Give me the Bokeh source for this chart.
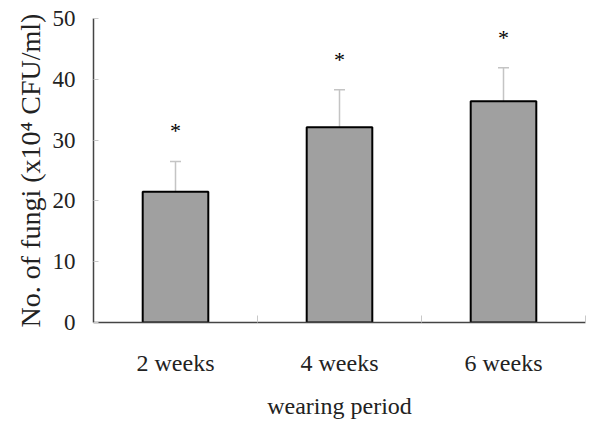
from bokeh.plotting import figure
from bokeh.models import FixedTicker, Whisker, TeeHead, ColumnDataSource, Range1d
from bokeh.core.properties import value
from bokeh.embed import file_html
from bokeh.resources import INLINE

categories = ["2 weeks", "4 weeks", "6 weeks"]
means = [21.5, 32.1, 36.4]
sds = [5.0, 6.2, 5.5]
y_ticks = [0, 10, 20, 30, 40, 50]
x_title = "wearing period"
y_title = "No. of fungi (x10\u2074 CFU/ml)"
star_offset = 5.0

FONT = "Liberation Serif"

xs = [i + 0.5 for i in range(len(categories))]
src = ColumnDataSource(dict(
    x=xs, top=means,
    upper=[m + s for m, s in zip(means, sds)],
    star=[m + s + star_offset for m, s in zip(means, sds)],
    label=["*"] * len(categories),
))

p = figure(width=590, height=421, output_backend="svg", toolbar_location=None,
           x_range=Range1d(0, len(categories)), y_range=Range1d(0, 50))
p.min_border_left = 93
p.min_border_right = 5
p.min_border_top = 18
p.min_border_bottom = 99
p.outline_line_color = None
p.xgrid.grid_line_color = None
p.ygrid.grid_line_color = None
p.background_fill_color = "white"
p.border_fill_color = "white"

p.vbar(x="x", top="top", width=0.4, bottom=0, source=src,
       fill_color="#a0a0a0", line_color="black", line_width=2)

w = Whisker(base="x", upper="upper", lower="top", source=src,
            line_color="#c4c4c4", line_width=1.5,
            upper_head=TeeHead(size=11, line_color="#c4c4c4", line_width=1.5),
            lower_head=None)
p.add_layout(w)

p.text(x="x", y="star", text="label", source=src, text_align="center",
       text_baseline="middle", text_font=value(FONT), text_font_size="22px",
       text_color="black")

# x axis
p.xaxis.ticker = FixedTicker(ticks=xs, minor_ticks=list(range(len(categories) + 1)))
p.xaxis.major_label_overrides = {x: c for x, c in zip(xs, categories)}
p.xaxis.major_tick_line_color = None
p.xaxis.minor_tick_line_color = "#c8c8c8"
p.xaxis.minor_tick_in = 7
p.xaxis.minor_tick_out = 0
p.xaxis.axis_line_color = "#444444"
p.xaxis.axis_line_width = 1.5
p.xaxis.major_label_text_font = FONT
p.xaxis.major_label_text_font_size = "24px"
p.xaxis.major_label_text_color = "#222222"
p.xaxis.major_label_standoff = 21
p.xaxis.axis_label = x_title
p.xaxis.axis_label_text_font = FONT
p.xaxis.axis_label_text_font_size = "24px"
p.xaxis.axis_label_text_font_style = "normal"
p.xaxis.axis_label_text_color = "#222222"
p.xaxis.axis_label_standoff = 14

# y axis
p.yaxis.ticker = FixedTicker(ticks=y_ticks)
p.yaxis.minor_tick_line_color = None
p.yaxis.major_tick_line_color = "#c8c8c8"
p.yaxis.major_tick_in = 5
p.yaxis.major_tick_out = 0
p.yaxis.axis_line_color = "#444444"
p.yaxis.axis_line_width = 1.5
p.yaxis.major_label_text_font = FONT
p.yaxis.major_label_text_font_size = "23px"
p.yaxis.major_label_text_color = "#222222"
p.yaxis.major_label_standoff = 18
p.yaxis.axis_label = y_title
p.yaxis.axis_label_text_font = FONT
p.yaxis.axis_label_text_font_size = "28px"
p.yaxis.axis_label_text_font_style = "normal"
p.yaxis.axis_label_text_color = "#222222"
p.yaxis.axis_label_standoff = 4

open("out.html", "w").write(file_html(p, INLINE))
